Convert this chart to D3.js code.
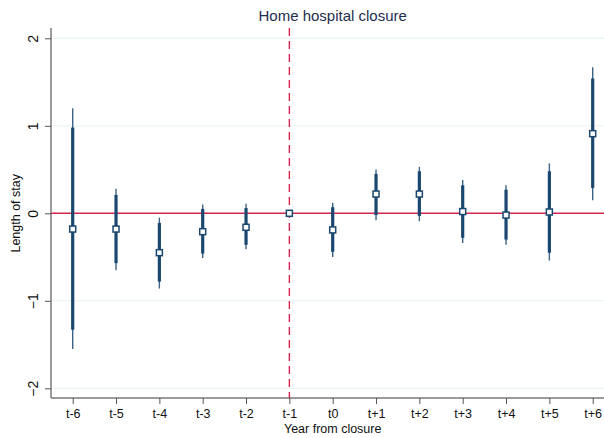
<!DOCTYPE html>
<html>
<head>
<meta charset="utf-8">
<script src="https://cdn.jsdelivr.net/npm/d3@7"></script>
<style>
  html, body { margin: 0; padding: 0; background: #fff; }
  svg { display: block; font-family: "Liberation Sans", Arial, sans-serif; }
</style>
</head>
<body>
<svg id="chart" width="604" height="438"></svg>
<script>
// Event-study estimates of length of stay around a home hospital closure
const periods   = ["t-6", "t-5", "t-4", "t-3", "t-2", "t-1", "t0", "t+1", "t+2", "t+3", "t+4", "t+5", "t+6"];
const estimate  = [-0.18, -0.18, -0.45, -0.21, -0.16, 0, -0.19, 0.22, 0.22, 0.02, -0.02, 0.015, 0.91];
// 95% interval (thin) and 90% interval (thick); reference period has none
const ci95Low   = [-1.55, -0.65, -0.86, -0.51, -0.41, null, -0.50, -0.08, -0.09, -0.34, -0.36, -0.54, 0.15];
const ci95High  = [1.20, 0.28, -0.05, 0.10, 0.11, null, 0.12, 0.50, 0.53, 0.38, 0.32, 0.57, 1.67];
const ci90Low   = [-1.33, -0.57, -0.78, -0.46, -0.36, null, -0.44, -0.02, -0.03, -0.28, -0.30, -0.45, 0.29];
const ci90High  = [0.98, 0.21, -0.11, 0.05, 0.06, null, 0.07, 0.45, 0.48, 0.32, 0.27, 0.48, 1.54];
const yTicks    = [-2, -1, 0, 1, 2];

const navy = "#1a476f";
const red = "#d6254f";

const svg = d3.select("#chart");
const plotLeft = 51, plotRight = 604, plotTop = 28, plotBottom = 398;

const x = d3.scalePoint().domain(periods).range([72.7, 592.7]);
const y = d3.scaleLinear().domain([-2, 2]).range([388.3, 38.3]);

const rows = periods.map((p, i) => ({
  p, est: estimate[i], lo95: ci95Low[i], hi95: ci95High[i], lo90: ci90Low[i], hi90: ci90High[i]
}));

// light gridlines
svg.append("g").selectAll("line")
  .data(yTicks.filter(d => d !== 0))
  .join("line")
  .attr("x1", plotLeft).attr("x2", plotRight)
  .attr("y1", d => y(d)).attr("y2", d => y(d))
  .attr("stroke", "#e8f0f2").attr("stroke-width", 1);

// y axis
const yAxis = svg.append("g")
  .attr("transform", `translate(${plotLeft},0)`)
  .call(d3.axisLeft(y).tickValues(yTicks).tickSize(6).tickPadding(0).tickFormat(d3.format("d")));
yAxis.select(".domain").attr("d", `M0,${plotTop}V${plotBottom}`).attr("stroke", "#7a7a7a").attr("stroke-width", 1.5);
yAxis.selectAll(".tick line").attr("stroke", "#555");
yAxis.selectAll(".tick text")
  .attr("x", null).attr("dy", null)
  .attr("transform", "translate(-18,0) rotate(-90)")
  .attr("text-anchor", "middle")
  .attr("dominant-baseline", "central")
  .attr("font-size", 14).attr("fill", "#111");

// x axis
const xAxis = svg.append("g")
  .attr("transform", `translate(0,${plotBottom})`)
  .call(d3.axisBottom(x).tickSize(6).tickPadding(5));
xAxis.select(".domain").attr("d", `M${plotLeft},0H${plotRight}`).attr("stroke", "#7a7a7a").attr("stroke-width", 1.5);
xAxis.selectAll(".tick line").attr("stroke", "#555");
xAxis.selectAll(".tick text").attr("font-size", 12.5).attr("fill", "#111");

// reference lines
svg.append("line")
  .attr("x1", plotLeft).attr("x2", plotRight)
  .attr("y1", y(0)).attr("y2", y(0))
  .attr("stroke", red).attr("stroke-width", 1.6);
svg.append("line")
  .attr("x1", x("t-1")).attr("x2", x("t-1"))
  .attr("y1", plotTop).attr("y2", plotBottom)
  .attr("stroke", red).attr("stroke-width", 1.4)
  .attr("stroke-dasharray", "8,5");

const withCI = rows.filter(d => d.lo95 !== null);

// thin 95% intervals
svg.append("g").selectAll("line")
  .data(withCI).join("line")
  .attr("x1", d => x(d.p)).attr("x2", d => x(d.p))
  .attr("y1", d => y(d.hi95)).attr("y2", d => y(d.lo95))
  .attr("stroke", navy).attr("stroke-width", 1.4).attr("stroke-opacity", 0.85);

// thick 90% intervals
svg.append("g").selectAll("line")
  .data(withCI).join("line")
  .attr("x1", d => x(d.p)).attr("x2", d => x(d.p))
  .attr("y1", d => y(d.hi90)).attr("y2", d => y(d.lo90))
  .attr("stroke", navy).attr("stroke-width", 3.2);

// point estimates
svg.append("g").selectAll("rect")
  .data(rows).join("rect")
  .attr("x", d => x(d.p) - 3).attr("y", d => y(d.est) - 3)
  .attr("width", 6).attr("height", 6)
  .attr("fill", "#fff").attr("stroke", navy).attr("stroke-width", 1.5);

// titles
svg.append("text")
  .attr("x", 332.7).attr("y", 21)
  .attr("text-anchor", "middle")
  .attr("font-size", 15).attr("fill", "#1e2e4e")
  .text("Home hospital closure");

svg.append("text")
  .attr("x", 332.7).attr("y", 433)
  .attr("text-anchor", "middle")
  .attr("font-size", 12.5).attr("fill", "#111")
  .text("Year from closure");

svg.append("text")
  .attr("transform", `translate(20,${y(0)}) rotate(-90)`)
  .attr("text-anchor", "middle")
  .attr("font-size", 12.5).attr("fill", "#111")
  .text("Length of stay");
</script>
</body>
</html>
